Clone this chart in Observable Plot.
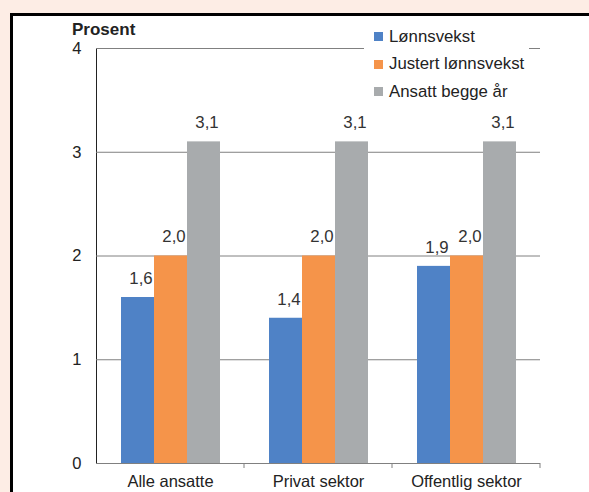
<!DOCTYPE html>
<html>
<head>
<meta charset="utf-8">
<script src="https://cdn.jsdelivr.net/npm/d3@7"></script>
<script src="https://cdn.jsdelivr.net/npm/@observablehq/plot@0.6"></script>
<style>
  html, body { margin: 0; padding: 0; }
  body { width: 589px; height: 492px; position: relative; overflow: hidden; background: #fdede5;
         font-family: "Liberation Sans", Arial, sans-serif; }
  #box { position: absolute; left: 10px; top: 13px; width: 620px; height: 520px; border: 3px solid #000; background: #fff; box-sizing: border-box; }
  #chart { position: absolute; left: 0; top: 0; }
  #ylabel { position: absolute; left: 72px; top: 20px; font-size: 17px; font-weight: bold; color: #222; line-height: 20px; }
  #legend { position: absolute; left: 364px; top: 23px; width: 165px; background: #fff; padding: 0; }
  .row { height: 27.5px; display: flex; align-items: center; font-size: 16.8px; color: #222; }
  .sw { width: 9px; height: 9px; margin-left: 10px; margin-right: 6px; }
  g[aria-label="fx-axis"] text { font-size: 18px; }
</style>
</head>
<body>
<div id="box"></div>
<div id="chart"></div>
<div id="ylabel">Prosent</div>
<div id="legend"></div>
<script>
const kategorier = ["Alle ansatte", "Privat sektor", "Offentlig sektor"];
const serier = ["Lønnsvekst", "Justert lønnsvekst", "Ansatt begge år"];
const lonnsvekst = [1.6, 1.4, 1.9];
const justertLonnsvekst = [2.0, 2.0, 2.0];
const ansattBeggeAr = [3.1, 3.1, 3.1];
const yTicks = [0, 1, 2, 3, 4];
const farger = ["#4f82c6", "#f5944a", "#a8abad"];

const verdier = [lonnsvekst, justertLonnsvekst, ansattBeggeAr];
const rows = [];
kategorier.forEach((k, i) => {
  serier.forEach((s, j) => rows.push({kategori: k, serie: s, verdi: verdier[j][i]}));
});
const fmt = v => v.toFixed(1).replace(".", ",");

const plot = Plot.plot({
  width: 589,
  height: 492,
  marginLeft: 96,
  marginRight: 49,
  marginTop: 48,
  marginBottom: 29,
  style: {background: "transparent", fontFamily: "'Liberation Sans', Arial, sans-serif", fontSize: "16.5px", color: "#222", overflow: "visible"},
  facet: {data: rows, x: "kategori"},
  fx: {domain: kategorier, padding: 0, axis: "bottom", label: null, tickSize: 0, tickPadding: 12},
  x: {domain: serier, axis: null, paddingInner: 0, paddingOuter: 0.742},
  y: {domain: [0, 4], ticks: yTicks, tickSize: 0, tickPadding: 15, label: null, line: true, tickFormat: d => String(d)},
  color: {domain: serier, range: farger},
  marks: [
    Plot.ruleY(yTicks.slice(1), {stroke: "#808080", strokeWidth: 1}),
    Plot.barY(rows, {x: "serie", y: "verdi", fill: "serie"}),
    Plot.ruleY([0], {stroke: "#808080", strokeWidth: 1}),
    Plot.text(rows, {x: "serie", y: "verdi", text: d => fmt(d.verdi), dy: -19, dx: 3, fill: "#333", fontSize: 16.8})
  ]
});

d3.select(plot).selectAll('g[aria-label="y-axis"] path').attr("stroke", "#808080");
document.getElementById("chart").appendChild(plot);

// boundary tick marks on the category axis, from the fx scale
const fx = plot.scale("fx");
const ys = plot.scale("y");
const y0 = ys.apply(0);
const svg = d3.select(plot);
const g = svg.append("g").attr("aria-label", "category-boundaries");
kategorier.forEach(k => {
  const xb = fx.apply(k) + fx.bandwidth;
  g.append("line").attr("x1", xb).attr("x2", xb).attr("y1", y0).attr("y2", y0 + 5)
    .attr("stroke", "#808080").attr("stroke-width", 1);
});

const legend = d3.select("#legend");
serier.forEach((s, i) => {
  const r = legend.append("div").attr("class", "row");
  r.append("div").attr("class", "sw").style("background", farger[i]);
  r.append("span").text(s);
});
</script>
</body>
</html>
